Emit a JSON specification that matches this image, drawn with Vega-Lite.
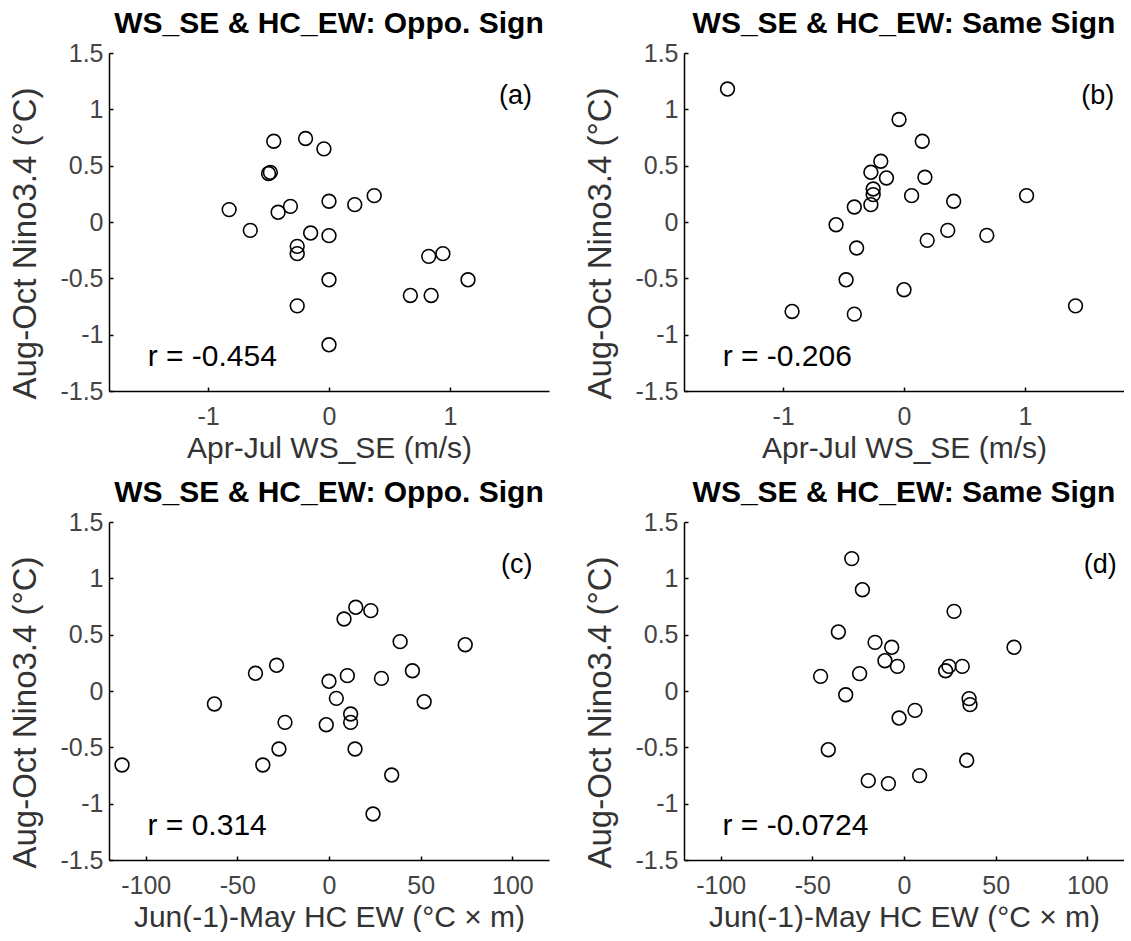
{
  "$schema": "https://vega.github.io/schema/vega-lite/v6.json",
  "background": "white",
  "padding": {"left": 9, "top": 9, "right": 0, "bottom": 0},
  "datasets": {
    "a": [
      {"x": -0.457, "y": 0.717}, {"x": -0.194, "y": 0.741}, {"x": -0.042, "y": 0.649},
      {"x": -0.50, "y": 0.43}, {"x": -0.485, "y": 0.44}, {"x": -0.826, "y": 0.11},
      {"x": -0.651, "y": -0.074}, {"x": -0.421, "y": 0.086}, {"x": -0.319, "y": 0.139},
      {"x": 0.0, "y": 0.184}, {"x": 0.213, "y": 0.154}, {"x": 0.374, "y": 0.234},
      {"x": -0.152, "y": -0.098}, {"x": 0.0, "y": -0.121}, {"x": -0.263, "y": -0.216},
      {"x": -0.263, "y": -0.281}, {"x": 0.0, "y": -0.513}, {"x": -0.263, "y": -0.744},
      {"x": 0.0, "y": -1.09}, {"x": 0.825, "y": -0.305}, {"x": 0.942, "y": -0.281},
      {"x": 1.15, "y": -0.513}, {"x": 0.673, "y": -0.652}, {"x": 0.845, "y": -0.652}
    ],
    "b": [
      {"x": -1.46, "y": 1.18}, {"x": -0.041, "y": 0.91}, {"x": 0.151, "y": 0.717},
      {"x": -0.192, "y": 0.539}, {"x": -0.274, "y": 0.441}, {"x": -0.145, "y": 0.391},
      {"x": 0.173, "y": 0.397}, {"x": -0.255, "y": 0.293}, {"x": -0.255, "y": 0.243},
      {"x": -0.274, "y": 0.154}, {"x": -0.411, "y": 0.133}, {"x": 0.063, "y": 0.234},
      {"x": 0.411, "y": 0.184}, {"x": 1.014, "y": 0.234}, {"x": -0.562, "y": -0.024},
      {"x": 0.362, "y": -0.074}, {"x": 0.192, "y": -0.163}, {"x": 0.685, "y": -0.119},
      {"x": -0.392, "y": -0.231}, {"x": -0.479, "y": -0.513}, {"x": 0.0, "y": -0.601},
      {"x": -0.926, "y": -0.794}, {"x": -0.411, "y": -0.818}, {"x": 1.419, "y": -0.744}
    ],
    "c": [
      {"x": -112.9, "y": -0.657}, {"x": -62.5, "y": -0.115}, {"x": -40.1, "y": 0.157},
      {"x": -28.6, "y": 0.228}, {"x": -24.0, "y": -0.278}, {"x": -27.3, "y": -0.515},
      {"x": -36.1, "y": -0.657}, {"x": 0.0, "y": 0.086}, {"x": 4.0, "y": -0.065},
      {"x": -1.5, "y": -0.299}, {"x": 8.2, "y": 0.639}, {"x": 14.6, "y": 0.743},
      {"x": 22.8, "y": 0.713}, {"x": 10.0, "y": 0.136}, {"x": 11.8, "y": -0.204},
      {"x": 11.8, "y": -0.278}, {"x": 14.2, "y": -0.515}, {"x": 28.6, "y": 0.112},
      {"x": 38.8, "y": 0.438}, {"x": 45.5, "y": 0.18}, {"x": 51.9, "y": -0.095},
      {"x": 74.3, "y": 0.411}, {"x": 34.2, "y": -0.746}, {"x": 24.0, "y": -1.092}
    ],
    "d": [
      {"x": -28.5, "y": 1.175}, {"x": -22.7, "y": 0.899}, {"x": 27.3, "y": 0.707},
      {"x": -35.8, "y": 0.524}, {"x": -15.8, "y": 0.432}, {"x": -6.7, "y": 0.388},
      {"x": 60.0, "y": 0.388}, {"x": -10.4, "y": 0.269}, {"x": -3.6, "y": 0.219},
      {"x": -45.5, "y": 0.13}, {"x": -24.2, "y": 0.154}, {"x": 22.7, "y": 0.18},
      {"x": 24.5, "y": 0.219}, {"x": 31.8, "y": 0.219}, {"x": -31.8, "y": -0.033},
      {"x": 35.5, "y": -0.068}, {"x": 36.0, "y": -0.121}, {"x": 6.0, "y": -0.172},
      {"x": -2.7, "y": -0.24}, {"x": -41.3, "y": -0.521}, {"x": 34.2, "y": -0.615},
      {"x": -19.5, "y": -0.796}, {"x": -8.5, "y": -0.822}, {"x": 8.5, "y": -0.751}
    ]
  },
  "concat": [
    {
      "width": 440, "height": 338,
      "title": "WS_SE & HC_EW: Oppo. Sign",
      "layer": [
        {
          "data": {"name": "a"},
          "mark": {"type": "point", "shape": "circle", "filled": false, "size": 190, "strokeWidth": 1.6, "color": "black", "opacity": 1},
          "encoding": {
            "x": {"field": "x", "type": "quantitative", "scale": {"domain": [-1.82, 1.82], "nice": false}, "axis": {"values": [-1, 0, 1], "title": "Apr-Jul WS_SE (m/s)"}},
            "y": {"field": "y", "type": "quantitative", "scale": {"domain": [-1.5, 1.5], "nice": false}, "axis": {"values": [-1.5, -1, -0.5, 0, 0.5, 1, 1.5], "title": "Aug-Oct Nino3.4 (°C)"}}
          }
        },
        {
          "data": {"values": [{"label": "r = -0.454"}]},
          "mark": {"type": "text", "align": "left", "baseline": "middle", "fontSize": 30, "color": "black"},
          "encoding": {"x": {"datum": -1.5, "type": "quantitative"}, "y": {"datum": -1.2, "type": "quantitative"}, "text": {"field": "label"}}
        },
        {
          "data": {"values": [{"label": "(a)"}]},
          "mark": {"type": "text", "align": "right", "baseline": "middle", "fontSize": 27, "color": "black"},
          "encoding": {"x": {"datum": 1.68, "type": "quantitative"}, "y": {"datum": 1.12, "type": "quantitative"}, "text": {"field": "label"}}
        }
      ]
    },
    {
      "width": 440, "height": 338,
      "title": "WS_SE & HC_EW: Same Sign",
      "layer": [
        {
          "data": {"name": "b"},
          "mark": {"type": "point", "shape": "circle", "filled": false, "size": 190, "strokeWidth": 1.6, "color": "black", "opacity": 1},
          "encoding": {
            "x": {"field": "x", "type": "quantitative", "scale": {"domain": [-1.82, 1.82], "nice": false}, "axis": {"values": [-1, 0, 1], "title": "Apr-Jul WS_SE (m/s)"}},
            "y": {"field": "y", "type": "quantitative", "scale": {"domain": [-1.5, 1.5], "nice": false}, "axis": {"values": [-1.5, -1, -0.5, 0, 0.5, 1, 1.5], "title": "Aug-Oct Nino3.4 (°C)"}}
          }
        },
        {
          "data": {"values": [{"label": "r = -0.206"}]},
          "mark": {"type": "text", "align": "left", "baseline": "middle", "fontSize": 30, "color": "black"},
          "encoding": {"x": {"datum": -1.5, "type": "quantitative"}, "y": {"datum": -1.2, "type": "quantitative"}, "text": {"field": "label"}}
        },
        {
          "data": {"values": [{"label": "(b)"}]},
          "mark": {"type": "text", "align": "right", "baseline": "middle", "fontSize": 27, "color": "black"},
          "encoding": {"x": {"datum": 1.74, "type": "quantitative"}, "y": {"datum": 1.12, "type": "quantitative"}, "text": {"field": "label"}}
        }
      ]
    },
    {
      "width": 440, "height": 338,
      "title": "WS_SE & HC_EW: Oppo. Sign",
      "layer": [
        {
          "data": {"name": "c"},
          "mark": {"type": "point", "shape": "circle", "filled": false, "size": 190, "strokeWidth": 1.6, "color": "black", "opacity": 1},
          "encoding": {
            "x": {"field": "x", "type": "quantitative", "scale": {"domain": [-120, 120], "nice": false}, "axis": {"values": [-100, -50, 0, 50, 100], "title": "Jun(-1)-May HC EW (°C × m)"}},
            "y": {"field": "y", "type": "quantitative", "scale": {"domain": [-1.5, 1.5], "nice": false}, "axis": {"values": [-1.5, -1, -0.5, 0, 0.5, 1, 1.5], "title": "Aug-Oct Nino3.4 (°C)"}}
          }
        },
        {
          "data": {"values": [{"label": "r = 0.314"}]},
          "mark": {"type": "text", "align": "left", "baseline": "middle", "fontSize": 30, "color": "black"},
          "encoding": {"x": {"datum": -99, "type": "quantitative"}, "y": {"datum": -1.2, "type": "quantitative"}, "text": {"field": "label"}}
        },
        {
          "data": {"values": [{"label": "(c)"}]},
          "mark": {"type": "text", "align": "right", "baseline": "middle", "fontSize": 27, "color": "black"},
          "encoding": {"x": {"datum": 111, "type": "quantitative"}, "y": {"datum": 1.12, "type": "quantitative"}, "text": {"field": "label"}}
        }
      ]
    },
    {
      "width": 440, "height": 338,
      "title": "WS_SE & HC_EW: Same Sign",
      "layer": [
        {
          "data": {"name": "d"},
          "mark": {"type": "point", "shape": "circle", "filled": false, "size": 190, "strokeWidth": 1.6, "color": "black", "opacity": 1},
          "encoding": {
            "x": {"field": "x", "type": "quantitative", "scale": {"domain": [-120, 120], "nice": false}, "axis": {"values": [-100, -50, 0, 50, 100], "title": "Jun(-1)-May HC EW (°C × m)"}},
            "y": {"field": "y", "type": "quantitative", "scale": {"domain": [-1.5, 1.5], "nice": false}, "axis": {"values": [-1.5, -1, -0.5, 0, 0.5, 1, 1.5], "title": "Aug-Oct Nino3.4 (°C)"}}
          }
        },
        {
          "data": {"values": [{"label": "r = -0.0724"}]},
          "mark": {"type": "text", "align": "left", "baseline": "middle", "fontSize": 30, "color": "black"},
          "encoding": {"x": {"datum": -99, "type": "quantitative"}, "y": {"datum": -1.2, "type": "quantitative"}, "text": {"field": "label"}}
        },
        {
          "data": {"values": [{"label": "(d)"}]},
          "mark": {"type": "text", "align": "right", "baseline": "middle", "fontSize": 27, "color": "black"},
          "encoding": {"x": {"datum": 116, "type": "quantitative"}, "y": {"datum": 1.12, "type": "quantitative"}, "text": {"field": "label"}}
        }
      ]
    }
  ],
  "columns": 2,
  "spacing": {"row": 131, "column": 135},
  "bounds": "flush",
  "config": {
    "font": "Liberation Sans",
    "view": {"stroke": null},
    "axis": {
      "grid": false,
      "domainColor": "#000",
      "domainWidth": 1.5,
      "tickColor": "#000",
      "tickWidth": 1.5,
      "tickSize": -4,
      "labelFontSize": 25,
      "labelColor": "#444",
      "labelPadding": 17,
      "labelFont": "Liberation Sans",
      "titleFont": "Liberation Sans",
      "titleFontSize": 30,
      "titleFontWeight": "normal",
      "titleColor": "#333",
      "titlePadding": 4,
      "labelExpr": "'' + datum.value"
    },
    "axisY": {"titlePadding": 17, "titleFontSize": 33, "titleY": 190, "labelPadding": 10},
    "title": {"fontSize": 30, "fontWeight": "bold", "color": "#000", "offset": 2, "font": "Liberation Sans"}
  }
}
